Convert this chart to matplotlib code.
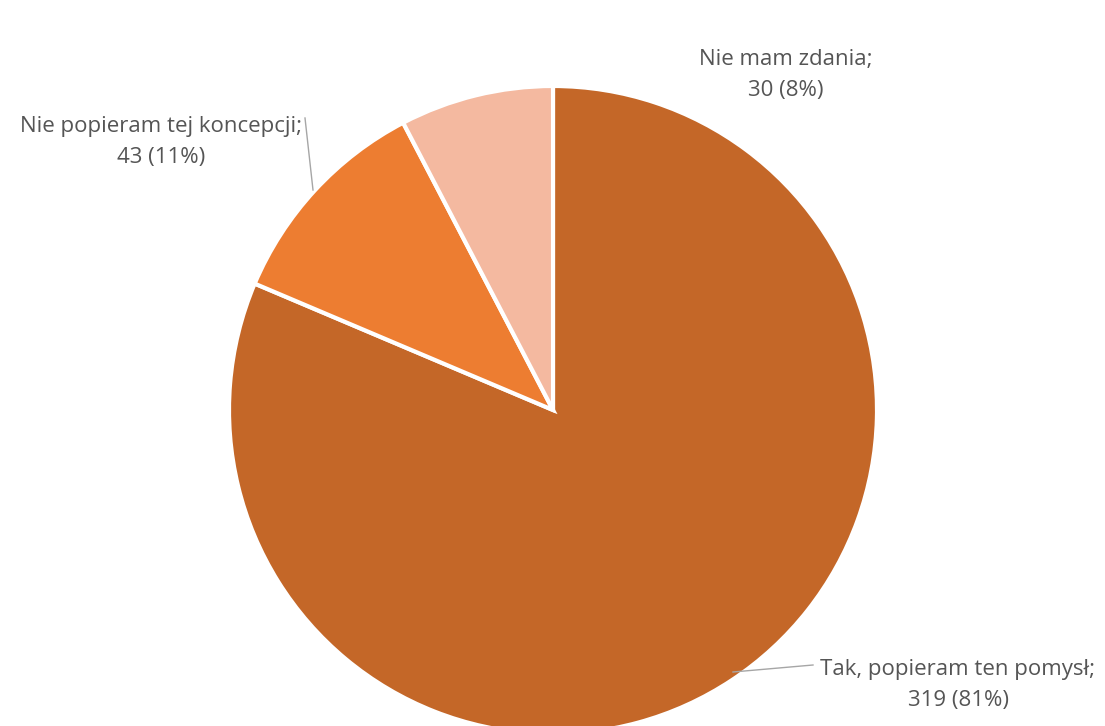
import matplotlib.pyplot as plt

# survey answers
labels = ["Tak, popieram ten pomysł", "Nie popieram tej koncepcji", "Nie mam zdania"]
counts = [319, 43, 30]
colors = ["#C46728", "#ED7D31", "#F4B9A0"]

W, H = 1105, 726
fig = plt.figure(figsize=(W / 100, H / 100), dpi=100)
ax = fig.add_axes([0, 0, 1, 1])

# pie centre / radius in pixels (y measured from bottom)
cx, cy, r = 553, H - 410, 324
ax.pie(counts, colors=colors, startangle=90, counterclock=False,
       center=(cx, cy), radius=r, frame=True,
       wedgeprops=dict(edgecolor="white", linewidth=3))
ax.set_xlim(0, W)
ax.set_ylim(0, H)
ax.axis("off")

total = sum(counts)
texts = [f"{l};\n{c} ({round(c / total * 100)}%)" for l, c in zip(labels, counts)]
label_pos = [(958, H - 685), (161, H - 142), (786, H - 75)]
for t, (x, y) in zip(texts, label_pos):
    ax.text(x, y, t, ha="center", va="center", fontsize=16,
            family="Open Sans", color="#555555", linespacing=1.6)

# leader lines
ax.plot([733, 813], [H - 672, H - 665], color="#A6A6A6", lw=1)
ax.plot([305, 313], [H - 118, H - 190], color="#A6A6A6", lw=1)

fig.savefig("out.png", dpi=100, facecolor="white")
